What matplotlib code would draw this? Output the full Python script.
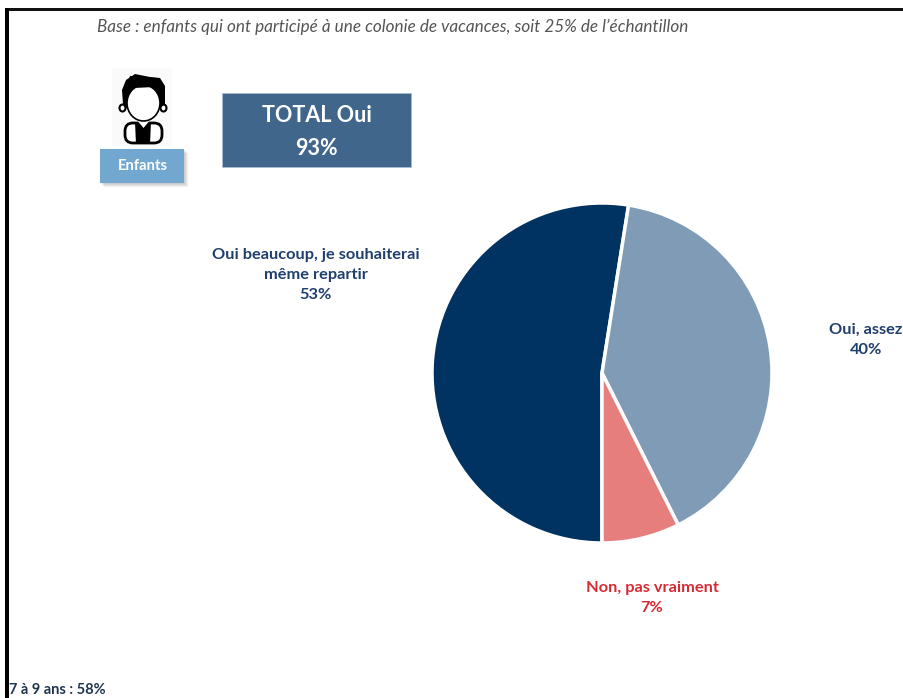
import matplotlib
matplotlib.use("Agg")
import matplotlib.pyplot as plt
from matplotlib.patches import Rectangle, Ellipse, Polygon, FancyBboxPatch

plt.rcParams['font.family'] = ['Lato', 'DejaVu Sans']

labels = ["Oui beaucoup, je souhaiterai\nmême repartir\n53%", "Oui, assez\n40%", "Non, pas vraiment\n7%"]
values = [52.5, 40.1, 7.4]
colors = ["#003262", "#809BB5", "#E67E7E"]
label_colors = ["#1F3F6E", "#1F3F6E", "#D62B35"]
label_x = [316, 866, 652]
label_y = [275, 340, 598]
base_text = "Base : enfants qui ont participé à une colonie de vacances, soit 25% de l’échantillon"
total_text = "TOTAL Oui\n93%"
foot_text = "7 à 9 ans : 58%"

fig = plt.figure(figsize=(9.04, 6.98), dpi=100)

# fond en coordonnees pixels
bg = fig.add_axes([0, 0, 1, 1])
bg.set_xlim(0, 904)
bg.set_ylim(698, 0)
bg.axis("off")

# cadre noir
bg.add_patch(Rectangle((5, 8), 899, 2.5, color="#111111", lw=0))
bg.add_patch(Rectangle((5, 8), 4, 690, color="#000000", lw=0))

bg.text(97, 27, base_text, fontsize=12.3, style="italic", color="#555555", va="center", ha="left")

# encadre total
bg.add_patch(Rectangle((222, 93), 189, 74, facecolor="#41668C", edgecolor="#A9BDD3", lw=0.6))
bg.text(316.5, 132, total_text, fontsize=15.5, fontweight="bold", color="white", ha="center", va="center",
        linespacing=1.65)

# icone enfant
bg.add_patch(Rectangle((112, 68), 60, 78, color="#FAFAFA", lw=0))
bg.add_patch(FancyBboxPatch((125, 123), 37, 20, boxstyle="round,pad=0,rounding_size=8",
                            facecolor="white", edgecolor="black", lw=2))
bg.add_patch(Polygon([(135, 122), (151, 122), (150, 144), (136, 144)], closed=True, color="black", lw=0))
bg.add_patch(Polygon([(136, 119), (151, 119), (143.5, 128)], closed=True, color="white", lw=0))
bg.add_patch(Ellipse((122.5, 108), 6, 7, facecolor="white", edgecolor="black", lw=1.5))
bg.add_patch(Ellipse((163.5, 108), 6, 7, facecolor="white", edgecolor="black", lw=1.5))
bg.add_patch(Polygon([(123, 104), (122, 90), (126, 80), (135, 74), (150, 77), (160, 78), (165, 86),
                      (165, 104), (160, 108), (126, 108)], closed=True, color="black", lw=0))
bg.add_patch(Ellipse((143.5, 103), 33, 36, facecolor="white", edgecolor="black", lw=1.2))
bg.add_patch(Polygon([(124, 94), (134, 88), (154, 87), (163, 94), (158, 78), (130, 76)],
                     closed=True, color="black", lw=0))

# bouton enfants, ombre floue
for i in range(4, 0, -1):
    bg.add_patch(Rectangle((100 + i, 149 + i), 84, 34, color="#888888", alpha=0.12, lw=0))
bg.add_patch(Rectangle((100, 149), 84, 34, color="#72A8D0", lw=0))
bg.text(142.5, 166, "Enfants", fontsize=10.6, fontweight="bold", color="white", ha="center", va="center")

# camembert
cx, cy, r = 602, 373, 170
ax = fig.add_axes([(cx - r) / 904, 1 - (cy + r) / 698, 2 * r / 904, 2 * r / 698])
ax.pie(values, colors=colors, startangle=-90, counterclock=False,
       wedgeprops={"edgecolor": "white", "linewidth": 2.5})
ax.set_xlim(-1, 1)
ax.set_ylim(-1, 1)

for lab, col, x, y in zip(labels, label_colors, label_x, label_y):
    bg.text(x, y, lab, fontsize=11.8, fontweight="bold", color=col, ha="center", va="center", linespacing=1.55)

bg.text(9, 690, foot_text, fontsize=10.5, fontweight="bold", color="#1F3550", ha="left", va="center")

fig.savefig("out.png", dpi=100)
